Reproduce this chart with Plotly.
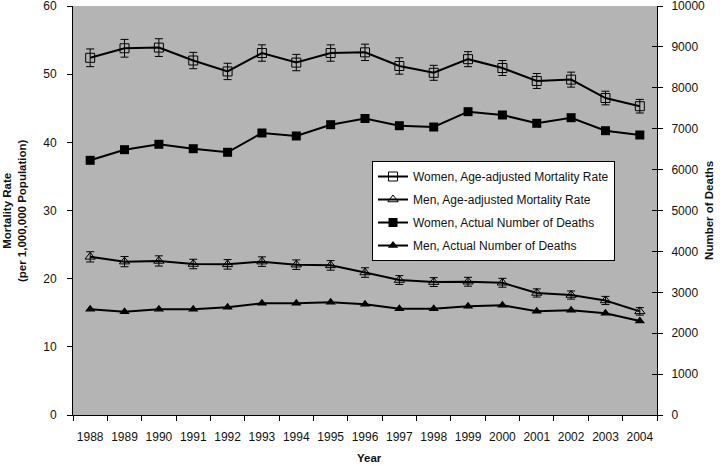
import plotly.graph_objects as go

years = [str(y) for y in range(1988, 2005)]

women_rate = [52.4, 53.8, 53.9, 52.0, 50.4, 53.1, 51.7, 53.1, 53.2, 51.2, 50.2, 52.2, 50.9, 49.0, 49.2, 46.5, 45.3]
women_rate_err = [1.3, 1.3, 1.3, 1.2, 1.2, 1.2, 1.2, 1.2, 1.2, 1.2, 1.1, 1.1, 1.1, 1.1, 1.1, 1.0, 1.0]
men_rate = [23.2, 22.5, 22.6, 22.15, 22.1, 22.5, 22.05, 21.95, 20.9, 19.8, 19.5, 19.55, 19.4, 17.9, 17.6, 16.8, 15.2]
men_rate_err = [0.75, 0.75, 0.75, 0.7, 0.7, 0.7, 0.7, 0.7, 0.7, 0.65, 0.65, 0.65, 0.65, 0.6, 0.6, 0.6, 0.55]
women_deaths = [6227, 6487, 6619, 6511, 6423, 6895, 6822, 7098, 7250, 7073, 7041, 7416, 7335, 7132, 7269, 6951, 6846]
men_deaths = [2584, 2526, 2584, 2584, 2633, 2731, 2731, 2755, 2706, 2600, 2600, 2657, 2682, 2535, 2560, 2486, 2298]

FONT = "Liberation Sans, Arial, sans-serif"

fig = go.Figure()
fig.add_trace(go.Scatter(
    x=years, y=women_rate, name="Women, Age-adjusted Mortality Rate",
    mode="lines+markers", line=dict(color="black", width=2),
    marker=dict(symbol="square-open", size=9, color="black", line=dict(width=1, color="black")),
    error_y=dict(type="data", array=women_rate_err, visible=True, color="black", thickness=1, width=4),
    legendgroup="a", yaxis="y"))
fig.add_trace(go.Scatter(
    x=years, y=men_rate, name="Men, Age-adjusted Mortality Rate",
    mode="lines+markers", line=dict(color="black", width=2),
    marker=dict(symbol="triangle-up-open", size=9, color="black", line=dict(width=1, color="black")),
    error_y=dict(type="data", array=men_rate_err, visible=True, color="black", thickness=1, width=4),
    legendgroup="b", yaxis="y"))
fig.add_trace(go.Scatter(
    x=years, y=women_deaths, name="Women, Actual Number of Deaths",
    mode="lines+markers", line=dict(color="black", width=2),
    marker=dict(symbol="square", size=9, color="black"),
    legendgroup="c", yaxis="y2"))
fig.add_trace(go.Scatter(
    x=years, y=men_deaths, name="Men, Actual Number of Deaths",
    mode="lines+markers", line=dict(color="black", width=2),
    marker=dict(symbol="triangle-up", size=9, color="black"),
    legendgroup="d", yaxis="y2"))
# carrier for the crossing-tick axis on the right
fig.add_trace(go.Scatter(x=[years[0]], y=[None], yaxis="y3", showlegend=False, hoverinfo="skip"))

fig.update_layout(
    width=720, height=465,
    margin=dict(l=73, r=63, t=6, b=50, autoexpand=False),
    paper_bgcolor="white",
    plot_bgcolor="#b4b4b4",
    font=dict(family=FONT, size=12, color="#111111"),
    showlegend=True,
    legend=dict(
        x=0.512, y=0.621, xanchor="left", yanchor="top",
        bgcolor="white", bordercolor="black", borderwidth=1,
        font=dict(family=FONT, size=12, color="#111111"),
        tracegroupgap=4, itemwidth=30,
    ),
    xaxis=dict(
        type="category", range=[-0.5, 16.5], tickson="boundaries",
        ticks="outside", ticklen=5, tickcolor="black", tickangle=0,
        showline=True, linecolor="black", linewidth=1,
        showgrid=False, zeroline=False, automargin=False,
        tickfont=dict(size=12), ticklabelstandoff=11,
    ),
    yaxis=dict(
        range=[0, 60], dtick=10, ticks="outside", ticklen=5, tickcolor="black",
        showline=True, linecolor="black", linewidth=1, automargin=False,
        showgrid=False, zeroline=False, tickfont=dict(size=12),
        ticklabelstandoff=8, ticklabeloverflow="allow",
    ),
    yaxis2=dict(
        range=[0, 10000], dtick=1000, overlaying="y", side="right",
        ticks="outside", ticklen=5, tickcolor="black", tickformat="d",
        showline=True, linecolor="black", linewidth=1, automargin=False,
        showgrid=False, zeroline=False, tickfont=dict(size=12),
        ticklabelstandoff=6, ticklabeloverflow="allow",
    ),
    yaxis3=dict(
        range=[0, 10000], dtick=1000, overlaying="y", side="right",
        ticks="inside", ticklen=5, tickcolor="black", showticklabels=False,
        showline=False, showgrid=False, zeroline=False, automargin=False,
    ),
)

fig.add_annotation(
    text="<b>Mortality Rate<br>(per 1,000,000 Population)</b>",
    xref="paper", yref="paper", x=-0.1, y=0.5, xanchor="center", yanchor="middle",
    textangle=-90, showarrow=False, font=dict(family=FONT, size=11.5, color="#111111"))
fig.add_annotation(
    text="<b>Number of Deaths</b>",
    xref="paper", yref="paper", x=1.088, y=0.5, xanchor="center", yanchor="middle",
    textangle=-90, showarrow=False, font=dict(family=FONT, size=11.5, color="#111111"))
fig.add_annotation(
    text="<b>Year</b>",
    xref="paper", yref="paper", x=0.507, y=-0.105, xanchor="center", yanchor="middle",
    showarrow=False, font=dict(family=FONT, size=11.5, color="#111111"))

fig.write_html("out.html", config={"displayModeBar": False},
               post_script="document.body.style.margin='0px';document.body.style.padding='0px';")
